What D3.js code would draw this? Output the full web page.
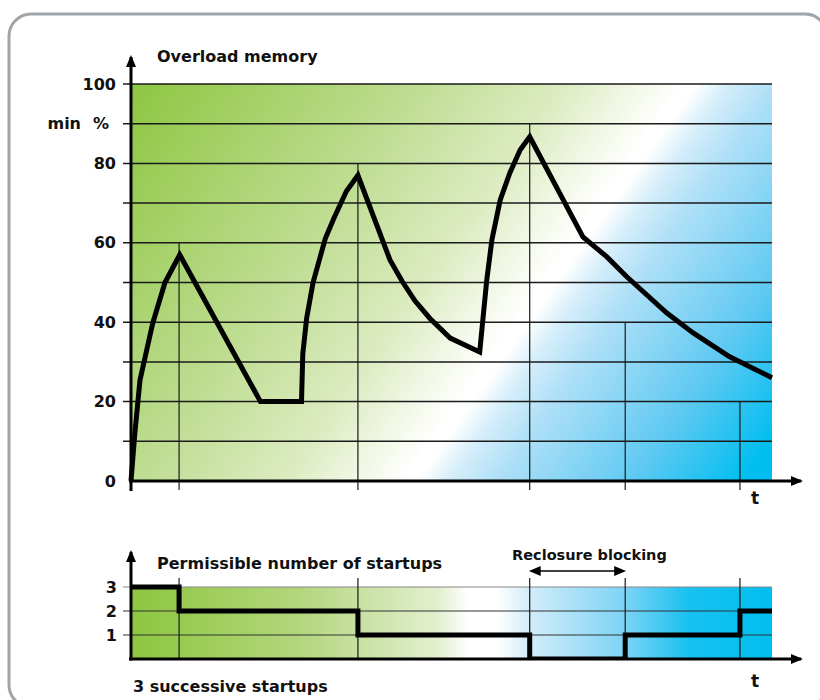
<!DOCTYPE html>
<html>
<head>
<meta charset="utf-8">
<script src="https://cdn.jsdelivr.net/npm/d3@7"></script>
<style>
  html, body { margin: 0; padding: 0; background: #fff; }
  svg text { font-family: "DejaVu Sans", sans-serif; font-weight: 700; fill: #111; }
</style>
</head>
<body>
<div id="chart"></div>
<script>
// time axis is in arbitrary units 0..100 (end of the drawn area)
const eventTimes = [7.5, 35.4, 62.2, 77.1, 95];
const eventTops = [60, 80, 90, 40, 20]; // where the drop lines stop on the memory chart

// overload memory curve
const memTime = [0, 0.6, 1.4, 2.45, 3.4, 5.3, 7.6, 20.2, 26.6, 26.8, 27.4, 28.4, 30.3, 31.6, 33.6, 35.4,
  40.4, 42.3, 44.3, 46.6, 49.8, 54.4, 55.5, 56.3, 57.6, 59.1, 60.7, 62.2, 70.5, 74.2, 77.3, 83.6, 87.7, 93.4, 100];
const memValue = [0, 12, 25.4, 33, 39.8, 50, 57, 20, 20, 32, 41, 50, 61, 66, 73, 77,
  55.7, 50.3, 45.4, 41, 36, 32.5, 50.6, 60.7, 70.8, 77.6, 83.4, 86.7, 61.5, 56.5, 51.5, 42.3, 37.3, 31.3, 26];

const memTicks = [0, 20, 40, 60, 80, 100];
const memGrid = [10, 20, 30, 40, 50, 60, 70, 80, 90, 100];

// permissible number of startups
const stepTime = [0, 7.5, 35.4, 62.2, 77.1, 95, 100];
const stepValue = [3, 2, 1, 0, 1, 2, 2];
const stepTicks = [1, 2, 3];

const W = 820, H = 700;

const svg = d3.select("#chart").append("svg")
  .attr("width", W)
  .attr("height", H);

const defs = svg.append("defs");

// diagonal gradient behind the memory chart
const gTop = defs.append("linearGradient")
  .attr("id", "gradTop")
  .attr("gradientUnits", "userSpaceOnUse")
  .attr("x1", 131).attr("y1", 84)
  .attr("x2", 745).attr("y2", 517);
[[0, "#8ec641"], [0.3, "#bcdc8f"], [0.47, "#dcebc0"], [0.57, "#f7fbf0"], [0.6, "#ffffff"],
 [0.615, "#ffffff"], [0.65, "#d5eefa"], [0.7, "#b0e0f7"], [0.85, "#5ec9f2"], [0.97, "#00bef0"], [1, "#00bef0"]]
  .forEach(s => gTop.append("stop").attr("offset", s[0]).attr("stop-color", s[1]));

// horizontal gradient behind the startups chart
const gBot = defs.append("linearGradient")
  .attr("id", "gradBot")
  .attr("gradientUnits", "userSpaceOnUse")
  .attr("x1", 131).attr("y1", 0)
  .attr("x2", 772).attr("y2", 0);
[[0, "#8dc63f"], [0.26, "#b2d67c"], [0.48, "#e3efd0"], [0.525, "#ffffff"], [0.57, "#ffffff"],
 [0.62, "#d3edfa"], [0.77, "#7dd3f5"], [0.87, "#18c1f0"], [1, "#00bff0"]]
  .forEach(s => gBot.append("stop").attr("offset", s[0]).attr("stop-color", s[1]));

// arrow head marker
defs.append("marker")
  .attr("id", "arrow")
  .attr("viewBox", "0 0 12 10")
  .attr("refX", 10).attr("refY", 5)
  .attr("markerWidth", 12).attr("markerHeight", 10)
  .attr("markerUnits", "userSpaceOnUse")
  .attr("orient", "auto-start-reverse")
  .append("path")
  .attr("d", "M0,0 L12,5 L0,10 Z")
  .attr("fill", "#000");

// frame
svg.append("rect")
  .attr("x", 9).attr("y", 14)
  .attr("width", 818).attr("height", 693)
  .attr("rx", 22)
  .attr("fill", "none")
  .attr("stroke", "#a0a5aa")
  .attr("stroke-width", 3);

const x = d3.scaleLinear().domain([0, 100]).range([131, 772]);

/////////////////////////////////////////////////////////
/////////////////// Overload memory /////////////////////
/////////////////////////////////////////////////////////

const yTop = d3.scaleLinear().domain([0, 100]).range([481, 84]);

svg.append("rect")
  .attr("x", x(0)).attr("y", yTop(100))
  .attr("width", x(100) - x(0))
  .attr("height", yTop(0) - yTop(100))
  .attr("fill", "url(#gradTop)");

svg.append("g").selectAll("line")
  .data(memGrid)
  .join("line")
  .attr("x1", x(0) - 8).attr("x2", x(100))
  .attr("y1", d => yTop(d)).attr("y2", d => yTop(d))
  .attr("stroke", "#1a1a1a")
  .attr("stroke-width", 1.5);

svg.append("g").selectAll("line")
  .data(eventTimes)
  .join("line")
  .attr("x1", d => x(d)).attr("x2", d => x(d))
  .attr("y1", (d, i) => yTop(eventTops[i]))
  .attr("y2", yTop(0) + 9)
  .attr("stroke", "#1a1a1a")
  .attr("stroke-width", 1.2);

const axTop = svg.append("g")
  .attr("transform", "translate(" + x(0) + ",0)")
  .call(d3.axisLeft(yTop).tickValues(memTicks).tickSize(0).tickPadding(15).tickFormat(d3.format("d")))
  .attr("font-family", null).attr("font-size", null);
axTop.select(".domain").remove();
axTop.selectAll("text").attr("font-size", 16).attr("fill", "#111");

svg.append("text").attr("x", 81).attr("y", yTop(90)).attr("dy", "0.35em")
  .attr("text-anchor", "end").attr("font-size", 16).text("min");
svg.append("text").attr("x", 109).attr("y", yTop(90)).attr("dy", "0.35em")
  .attr("text-anchor", "end").attr("font-size", 16).text("%");

// axes with arrows
svg.append("line")
  .attr("x1", x(0)).attr("x2", x(0))
  .attr("y1", yTop(0) + 10).attr("y2", 57)
  .attr("stroke", "#000").attr("stroke-width", 3)
  .attr("marker-end", "url(#arrow)");
svg.append("line")
  .attr("x1", x(0) - 2).attr("x2", 801)
  .attr("y1", yTop(0)).attr("y2", yTop(0))
  .attr("stroke", "#000").attr("stroke-width", 3)
  .attr("marker-end", "url(#arrow)");

const memLine = d3.line()
  .x((d, i) => x(memTime[i]))
  .y(d => yTop(d));

svg.append("path")
  .datum(memValue)
  .attr("d", memLine)
  .attr("fill", "none")
  .attr("stroke", "#000")
  .attr("stroke-width", 5)
  .attr("stroke-linejoin", "miter");

svg.append("text").attr("x", 157).attr("y", 62).attr("font-size", 16).text("Overload memory");
svg.append("text").attr("x", 755).attr("y", 504).attr("text-anchor", "middle").attr("font-size", 17).text("t");

/////////////////////////////////////////////////////////
///////////// Permissible number of startups ////////////
/////////////////////////////////////////////////////////

const yBot = d3.scaleLinear().domain([0, 3]).range([659, 587]);

// keep the step line from thickening the time axis
defs.append("clipPath")
  .attr("id", "clipBot")
  .append("rect")
  .attr("x", 0).attr("y", 0)
  .attr("width", W).attr("height", yBot(0));

svg.append("rect")
  .attr("x", x(0)).attr("y", yBot(3))
  .attr("width", x(100) - x(0))
  .attr("height", yBot(0) - yBot(3))
  .attr("fill", "url(#gradBot)");

svg.append("g").selectAll("line")
  .data(stepTicks)
  .join("line")
  .attr("x1", x(0) - 8).attr("x2", x(100))
  .attr("y1", d => yBot(d)).attr("y2", d => yBot(d))
  .attr("stroke", d => d === 3 ? "#888" : "#333")
  .attr("stroke-width", 1.2);

svg.append("g").selectAll("line")
  .data(eventTimes)
  .join("line")
  .attr("x1", d => x(d)).attr("x2", d => x(d))
  .attr("y1", yBot(3) - 9)
  .attr("y2", yBot(0))
  .attr("stroke", "#1a1a1a")
  .attr("stroke-width", 1.2);

const axBot = svg.append("g")
  .attr("transform", "translate(" + x(0) + ",0)")
  .call(d3.axisLeft(yBot).tickValues(stepTicks).tickSize(0).tickPadding(14).tickFormat(d3.format("d")))
  .attr("font-family", null).attr("font-size", null);
axBot.select(".domain").remove();
axBot.selectAll("text").attr("font-size", 16).attr("fill", "#111");

svg.append("line")
  .attr("x1", x(0)).attr("x2", x(0))
  .attr("y1", yBot(0) + 1.5).attr("y2", 552)
  .attr("stroke", "#000").attr("stroke-width", 3)
  .attr("marker-end", "url(#arrow)");

const stepLine = d3.line()
  .x((d, i) => x(stepTime[i]))
  .y(d => yBot(d))
  .curve(d3.curveStepAfter);

svg.append("path")
  .datum(stepValue)
  .attr("d", stepLine)
  .attr("clip-path", "url(#clipBot)")
  .attr("fill", "none")
  .attr("stroke", "#000")
  .attr("stroke-width", 5);

// x axis on top of the step line
svg.append("line")
  .attr("x1", x(0) - 2).attr("x2", 801)
  .attr("y1", yBot(0)).attr("y2", yBot(0))
  .attr("stroke", "#000").attr("stroke-width", 3)
  .attr("marker-end", "url(#arrow)");

// reclosure blocking span
svg.append("line")
  .attr("x1", x(eventTimes[2]) + 1).attr("x2", x(eventTimes[3]) - 1)
  .attr("y1", 571).attr("y2", 571)
  .attr("stroke", "#000").attr("stroke-width", 1.5)
  .attr("marker-start", "url(#arrow)")
  .attr("marker-end", "url(#arrow)");

svg.append("text").attr("x", (x(eventTimes[2]) + x(eventTimes[3])) / 2 + 12).attr("y", 560)
  .attr("text-anchor", "middle").attr("font-size", 14.5).text("Reclosure blocking");
svg.append("text").attr("x", 157).attr("y", 569).attr("font-size", 16).text("Permissible number of startups");
svg.append("text").attr("x", 133).attr("y", 692).attr("font-size", 16).text("3 successive startups");
svg.append("text").attr("x", 755).attr("y", 687).attr("text-anchor", "middle").attr("font-size", 17).text("t");
</script>
</body>
</html>
